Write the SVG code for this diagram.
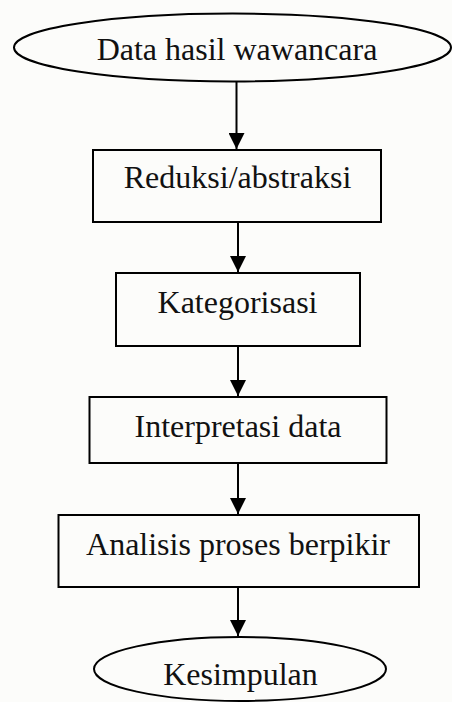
<svg xmlns="http://www.w3.org/2000/svg" width="452" height="702" viewBox="0 0 452 702">
  <style>
    .shape { fill: none; stroke: #000; stroke-width: 2; }
    .label { font-family: "Liberation Serif", "Times New Roman", serif; font-size: 32px; fill: #111; text-anchor: middle; }
    .conn { stroke: #000; stroke-width: 2; fill: none; marker-end: url(#arrow); }
  </style>
  <defs>
    <marker id="arrow" viewBox="0 0 16 16" refX="16" refY="8" markerWidth="16" markerHeight="16" markerUnits="userSpaceOnUse" orient="auto">
      <path d="M0,0 L16,8 L0,16 z" fill="#000"/>
    </marker>
  </defs>
  <rect x="0" y="0" width="452" height="702" fill="#fcfcfa"/>

  <g id="node-data">
    <ellipse class="shape" cx="232.5" cy="47.5" rx="218.5" ry="34"/>
    <text class="label" x="237" y="60">Data hasil wawancara</text>
  </g>
  <g id="node-reduksi">
    <rect class="shape" x="93" y="150" width="288" height="72"/>
    <text class="label" x="237.5" y="188">Reduksi/abstraksi</text>
  </g>
  <g id="node-kategorisasi">
    <rect class="shape" x="116" y="273" width="244" height="73"/>
    <text class="label" x="237.5" y="313">Kategorisasi</text>
  </g>
  <g id="node-interpretasi">
    <rect class="shape" x="89.5" y="397" width="297" height="66"/>
    <text class="label" x="238" y="437">Interpretasi data</text>
  </g>
  <g id="node-analisis">
    <rect class="shape" x="58.5" y="515" width="360.5" height="72"/>
    <text class="label" x="238" y="555">Analisis proses berpikir</text>
  </g>
  <g id="node-kesimpulan">
    <ellipse class="shape" cx="240" cy="669" rx="146" ry="32"/>
    <text class="label" x="240.5" y="685">Kesimpulan</text>
  </g>

  <g id="connectors">
    <line class="conn" x1="236.5" y1="82" x2="236.5" y2="149"/>
    <line class="conn" x1="238" y1="222" x2="238" y2="272"/>
    <line class="conn" x1="238" y1="346" x2="238" y2="396"/>
    <line class="conn" x1="238" y1="463" x2="238" y2="514"/>
    <line class="conn" x1="238" y1="587" x2="238" y2="636"/>
  </g>
</svg>
